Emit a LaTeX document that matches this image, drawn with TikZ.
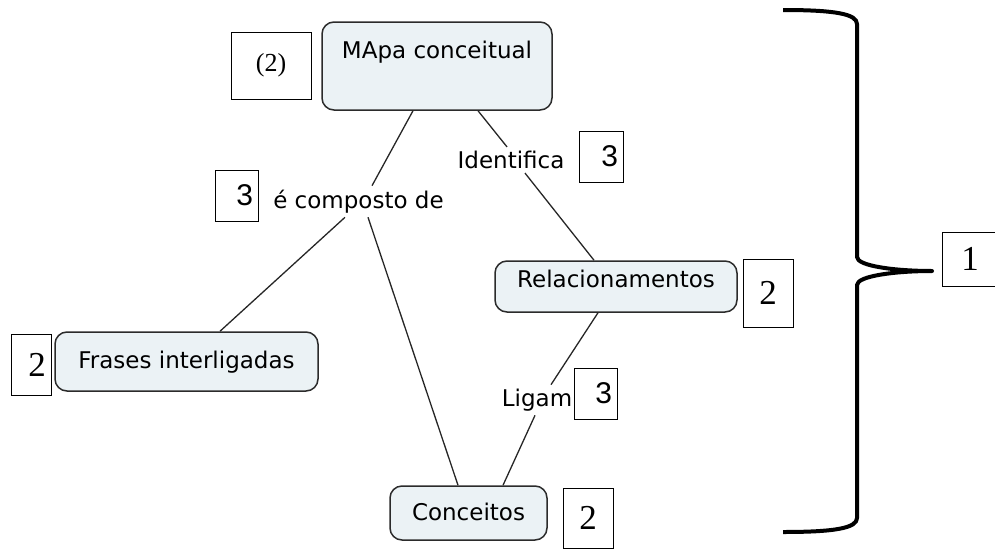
\documentclass[tikz,border=0pt]{standalone}
\usepackage{fontspec}
\newfontfamily\mapfont{DejaVu Sans}
\newfontfamily\numfont{Liberation Serif}
\newfontfamily\trefont{Liberation Sans}
\usepackage{tikz}
\definecolor{conceptfill}{HTML}{EBF2F5}
\definecolor{conceptline}{HTML}{2B2B2B}
\tikzset{
    concept/.style={draw=conceptline, fill=conceptfill, line width=1.5pt, rounded corners=12pt,
        inner sep=0pt, text height=17pt, text depth=4pt, font=\mapfont\fontsize{23}{27}\selectfont},
    linkname/.style={inner xsep=2pt, inner ysep=4pt, font=\mapfont\fontsize{23}{27}\selectfont},
    link/.style={line width=1.3pt, color=black!85},
    numbox/.style={draw, line width=0.9pt, inner xsep=5pt, inner ysep=0pt, font=\numfont\fontsize{35}{38}\selectfont},
    threebox/.style={numbox, align=right, minimum height=51pt, font=\trefont\fontsize{30}{33}\selectfont},
}

\begin{document}
\begin{tikzpicture}[x=1pt, y=-1pt]
    \useasboundingbox (0, 0) rectangle (995, 554);
    % conceitos
    \node[concept, minimum width=230pt, minimum height=88pt, text depth=33pt, inner ysep=19pt] (mapa) at (437, 66) {MApa conceitual};
    \node[concept, minimum width=263pt, minimum height=59pt] (frases) at (186.5, 361.5) {Frases interligadas};
    \node[concept, minimum width=242pt, minimum height=51pt, text depth=16pt] (rel) at (616, 286.5) {Relacionamentos};
    \node[concept, minimum width=157pt, minimum height=54pt, text depth=3pt] (conc) at (468.5, 513) {Conceitos};
    % frases de ligacao
    \node[linkname] (comp) at (358.5, 201.5) {é composto de};
    \node[linkname] (ident) at (511, 160) {Identifica};
    \node[linkname] (ligam) at (537, 400) {Ligam};
    \draw[link]([xshift=-24pt]mapa.south)--([xshift=13.5pt]comp.north);
    \draw[link]([xshift=-13.5pt]comp.south)--([xshift=33.5pt]frases.north);
    \draw[link]([xshift=9.5pt]comp.south)--([xshift=-10.5pt]conc.north);
    \draw[link]([xshift=41pt]mapa.south)--([xshift=-4pt]ident.north);
    \draw[link]([xshift=14pt]ident.south)--([xshift=-22pt]rel.north);
    \draw[link]([xshift=-18pt]rel.south)--([xshift=14pt]ligam.north);
    \draw[link]([xshift=-2pt]ligam.south)--([xshift=34.5pt]conc.north);
    % numeros
    \node[numbox, minimum width=80pt, minimum height=67pt, font=\numfont\fontsize{26}{29}\selectfont] (nmapa) at (271, 65.5) {(2)};
    \node[numbox, align=right, text width=30pt, minimum height=61pt] (nfrases) at (31, 364.5) {2};
    \node[numbox, minimum width=50pt, minimum height=68pt] (nrel) at (768, 293) {2};
    \node[numbox, minimum width=50pt, minimum height=60pt] (nconc) at (588, 518) {2};
    \node[threebox, text width=33pt] (ncomp) at (236.5, 195.5) {3};
    \node[threebox, text width=34pt] (nident) at (601, 156.5) {3};
    \node[threebox, text width=33pt] (nligam) at (595.5, 393.5) {3};
    \node[numbox, minimum width=56pt, minimum height=54pt] (ntodo) at (970, 259) {1};
    % chave
    \coordinate (bracetop) at (783, 10);
    \coordinate (bracetip) at (932, 271);
    \coordinate (bracebot) at (783, 532);
    \draw[line width=4pt, line join=round](bracetop)..controls(835, 10)and(857, 14)..(857, 24)--(857, 257)
        ..controls(857, 266)and(895, 271)..(bracetip)..controls(895, 271)and(857, 276)..(857, 285)
        --(857, 518)..controls(857, 528)and(835, 532)..(bracebot);
\end{tikzpicture}
\end{document}
